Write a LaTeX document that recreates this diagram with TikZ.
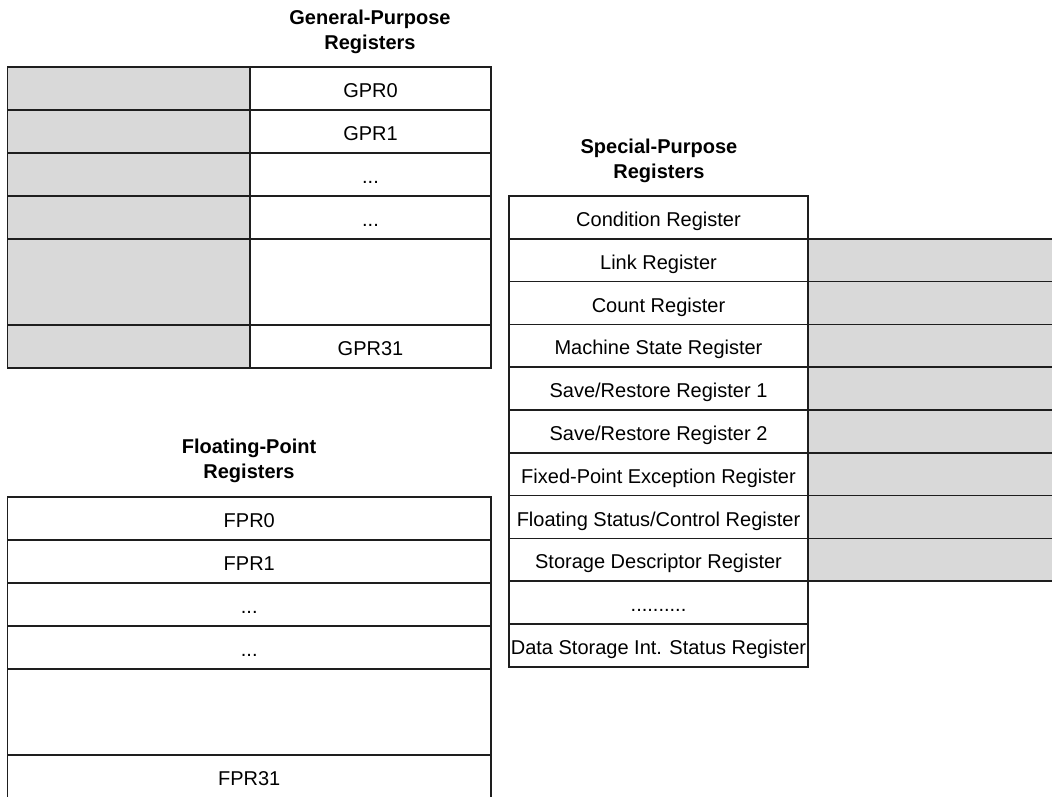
\documentclass[tikz,border=0pt]{standalone}
\usepackage{fontspec}
\setmainfont{Liberation Sans}
\definecolor{regfill}{RGB}{217,217,217}
\definecolor{regline}{RGB}{30,30,30}
\begin{document}
\begin{tikzpicture}[x=1pt,y=-1pt,
  cell/.style={draw=regline, line width=1.6pt, inner sep=0pt, outer sep=0pt,
    anchor=north west, minimum height=43pt, text height=18pt, text depth=0pt,
    font=\fontsize{20}{24}\selectfont},
  shaded/.style={cell, fill=regfill},
  dcell/.style={cell, minimum height=86pt},
  dshaded/.style={shaded, minimum height=86pt},
  scell/.style={cell, minimum height=42.8pt, minimum width=299pt},
  sshaded/.style={shaded, minimum height=42.8pt, minimum width=252pt},
  gl/.style={minimum width=242.5pt},
  gr/.style={minimum width=241pt},
  fw/.style={minimum width=483.5pt},
  title/.style={font=\fontsize{20}{25}\selectfont\bfseries, align=center, inner sep=0pt}]
\useasboundingbox (0,0) rectangle (1052,797);
\clip (0,0) rectangle (1052,797);

% General-Purpose Registers
\node[title] (gtitle) at (370,32) {General-Purpose\\Registers};
\node[shaded,gl] (g0l) at (7.5,67) {};
\node[cell,gr] (g0) at (250,67) {GPR0};
\node[shaded,gl] (g1l) at (7.5,110) {};
\node[cell,gr] (g1) at (250,110) {GPR1};
\node[shaded,gl] (g2l) at (7.5,153) {};
\node[cell,gr] (g2) at (250,153) {...};
\node[shaded,gl] (g3l) at (7.5,196) {};
\node[cell,gr] (g3) at (250,196) {...};
\node[dshaded,gl] (g4l) at (7.5,239) {};
\node[dcell,gr] (g4) at (250,239) {};
\node[shaded,gl] (g5l) at (7.5,325) {};
\node[cell,gr] (g5) at (250,325) {GPR31};

% Special-Purpose Registers
\node[title] (stitle) at (659,160.5) {Special-Purpose\\Registers};
\node[scell] (s0) at (509,196) {Condition Register};
\node[scell] (s1) at (509,238.8) {Link Register};
\node[sshaded] (s1r) at (808,238.8) {};
\node[scell] (s2) at (509,281.6) {Count Register};
\node[sshaded] (s2r) at (808,281.6) {};
\node[scell] (s3) at (509,324.4) {Machine State Register};
\node[sshaded] (s3r) at (808,324.4) {};
\node[scell] (s4) at (509,367.2) {Save/Restore Register 1};
\node[sshaded] (s4r) at (808,367.2) {};
\node[scell] (s5) at (509,410) {Save/Restore Register 2};
\node[sshaded] (s5r) at (808,410) {};
\node[scell] (s6) at (509,452.8) {Fixed-Point Exception Register};
\node[sshaded] (s6r) at (808,452.8) {};
\node[scell] (s7) at (509,495.6) {Floating Status/Control Register};
\node[sshaded] (s7r) at (808,495.6) {};
\node[scell] (s8) at (509,538.4) {Storage Descriptor Register};
\node[sshaded] (s8r) at (808,538.4) {};
\node[scell] (s9) at (509,581.2) {..........};
\node[scell] (s10) at (509,624) {Data Storage Int. Status Register};

% Floating-Point Registers
\node[title] (ftitle) at (249,460.5) {Floating-Point\\Registers};
\node[cell,fw] (f0) at (7.5,497) {FPR0};
\node[cell,fw] (f1) at (7.5,540) {FPR1};
\node[cell,fw] (f2) at (7.5,583) {...};
\node[cell,fw] (f3) at (7.5,626) {...};
\node[dcell,fw] (f4) at (7.5,669) {};
\node[cell,fw] (f5) at (7.5,755) {FPR31};
\end{tikzpicture}
\end{document}
